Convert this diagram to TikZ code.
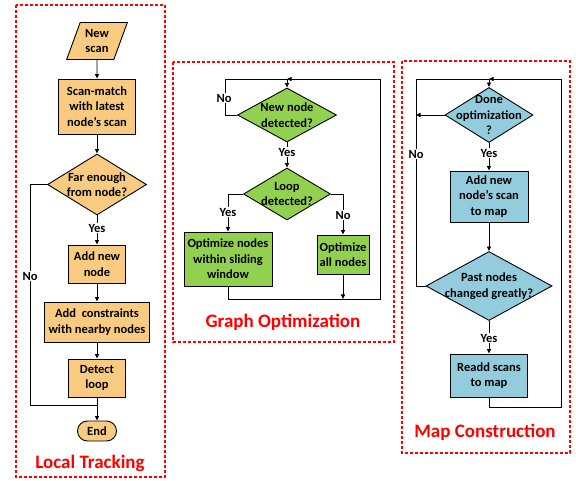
\documentclass[tikz,border=0pt]{standalone}
\usepackage{fontspec}
\setmainfont{Carlito}
\usetikzlibrary{shapes.geometric,arrows.meta}
\definecolor{orfill}{HTML}{F8CB80}
\definecolor{grfill}{HTML}{92D050}
\definecolor{blfill}{HTML}{93CDDD}
\definecolor{redbox}{HTML}{FF0000}
\begin{document}
\begin{tikzpicture}[x=1pt,y=-1pt,
  every node/.style={font=\bfseries\fontsize{12.5}{15.5}\selectfont, align=center},
  box/.style={draw=black, line width=0.9pt, rectangle, inner sep=0pt},
  dia/.style={draw=black, line width=0.9pt, diamond, inner sep=0pt},
  conn/.style={draw=black, line width=0.9pt},
  arr/.style={conn, -{Triangle[length=4.5pt,width=4pt]}},
  lbl/.style={fill=white, inner sep=1pt},
  frame/.style={draw=redbox, line width=1.6pt, dash pattern=on 3pt off 2pt},
  title/.style={text=redbox, font=\bfseries\fontsize{19}{22}\selectfont}
]
\useasboundingbox (0,0) rectangle (576,481);
% frames
\draw[frame] (16,5) rectangle (165,477);
\draw[frame] (173,62) rectangle (394,342);
\draw[frame] (402,61) rectangle (570,453);
\node[title] (tlocal) at (90,463) {Local Tracking};
\node[title] (tgraph) at (283,322) {Graph Optimization};
\node[title] (tmap) at (485,432) {Map Construction};

% ---------- Local tracking
\node[draw=black, line width=0.9pt, fill=orfill, trapezium, trapezium left angle=68, trapezium right angle=112,
  minimum width=61pt, minimum height=37pt, inner sep=0pt, trapezium stretches=true] (newscan) at (97,41) {New\\scan};
\node[box, fill=orfill, minimum width=77pt, minimum height=55pt] (scan) at (97,106.5) {Scan-match\\with latest\\node’s scan};
\node[dia, fill=orfill, minimum width=99pt, minimum height=61pt] (far) at (97,184.5) {};
\node (fartxt) at (far.center) {Far enough\\from node?};
\node[box, fill=orfill, minimum width=57pt, minimum height=38pt] (addnode) at (97,264) {Add new\\node};
\node[box, fill=orfill, minimum width=105pt, minimum height=40pt] (constr) at (97,322) {Add\ \ constraints\\with nearby nodes};
\node[box, fill=orfill, minimum width=57pt, minimum height=38pt] (detect) at (97,378) {Detect\\loop};
\node[box, fill=orfill, rounded corners=10pt, minimum width=39pt, minimum height=20pt] (endn) at (97,431) {End};
\coordinate (ljoin) at (97,405);
\draw[arr] (newscan) -- (scan);
\draw[arr] (scan) -- (far);
\draw[arr] (far.south) -- (addnode.north);
\node[lbl] (yes1) at (97,228) {Yes};
\draw[arr] (addnode) -- (constr);
\draw[arr] (constr) -- (detect);
\draw[arr] (detect) -- (endn);
\draw[conn] (far.west) -- (30,184.5) -- (30,405) -- (ljoin);
\node[lbl] (no1) at (30,276) {No};

% ---------- Graph optimization
\node[dia, fill=grfill, minimum width=99pt, minimum height=54pt] (newnode) at (287,115) {};
\node (newnodetxt) at (newnode.center) {New node\\detected?};
\node[dia, fill=grfill, minimum width=87pt, minimum height=52pt] (loop) at (287,194) {};
\node (looptxt) at (loop.center) {Loop\\detected?};
\node[box, fill=grfill, minimum width=88pt, minimum height=54pt] (optwin) at (228,259) {Optimize nodes\\within sliding\\window};
\node[box, fill=grfill, minimum width=52pt, minimum height=39pt] (optall) at (343,254.5) {Optimize\\all nodes};
\coordinate (gtop) at (287,79);
\coordinate (gbot) at (343,299);
\draw[conn] (newnode.west) -- (225,115) -- (225,79) -- (gtop);
\draw[arr] (gtop) -- (newnode.north);
\draw[conn] (optwin.south) -- (228,299) -- (380,299) -- (380,79);
\draw[arr] (380,79) -- (gtop);
\draw[arr] (optall.south) -- (gbot);
\draw[arr] (newnode.south) -- (loop.north);
\node[lbl] (yes2) at (287,152) {Yes};
\draw[arr] (loop.west) -| (optwin.north);
\draw[arr] (loop.east) -| (optall.north);
\node[lbl] (yes3) at (228,212) {Yes};
\node[lbl] (no2) at (343,215) {No};
\node[lbl] (no3) at (224,98) {No};

% ---------- Map construction
\node[dia, fill=blfill, minimum width=88pt, minimum height=55pt] (done) at (489,115) {};
\node (donetxt) at (done.center) {Done\\optimization\\?};
\node[box, fill=blfill, minimum width=78pt, minimum height=51pt] (addmap) at (489,196.5) {Add new\\node’s scan\\to map};
\node[dia, fill=blfill, minimum width=126pt, minimum height=69pt] (past) at (489,286) {};
\node (pasttxt) at (past.center) {Past nodes\\changed greatly?};
\node[box, fill=blfill, minimum width=77pt, minimum height=43pt] (readd) at (489,375.5) {Readd scans\\to map};
\coordinate (mtop) at (489,79);
\coordinate (mleft) at (416,115);
\draw[arr] (done.south) -- (addmap.north);
\node[lbl] (yes4) at (489,153) {Yes};
\draw[arr] (addmap) -- (past);
\draw[arr] (past.south) -- (readd.north);
\node[lbl] (yes5) at (489,338) {Yes};
\draw[conn] (past.west) -- (416,286) -- (416,79) -- (mtop);
\draw[arr] (mtop) -- (done.north);
\draw[arr] (done.west) -- (mleft);
\draw[conn] (readd.south) -- (489,407) -- (561,407) -- (561,79);
\draw[arr] (561,79) -- (mtop);
\node[lbl] (no4) at (416,154) {No};
\end{tikzpicture}
\end{document}
